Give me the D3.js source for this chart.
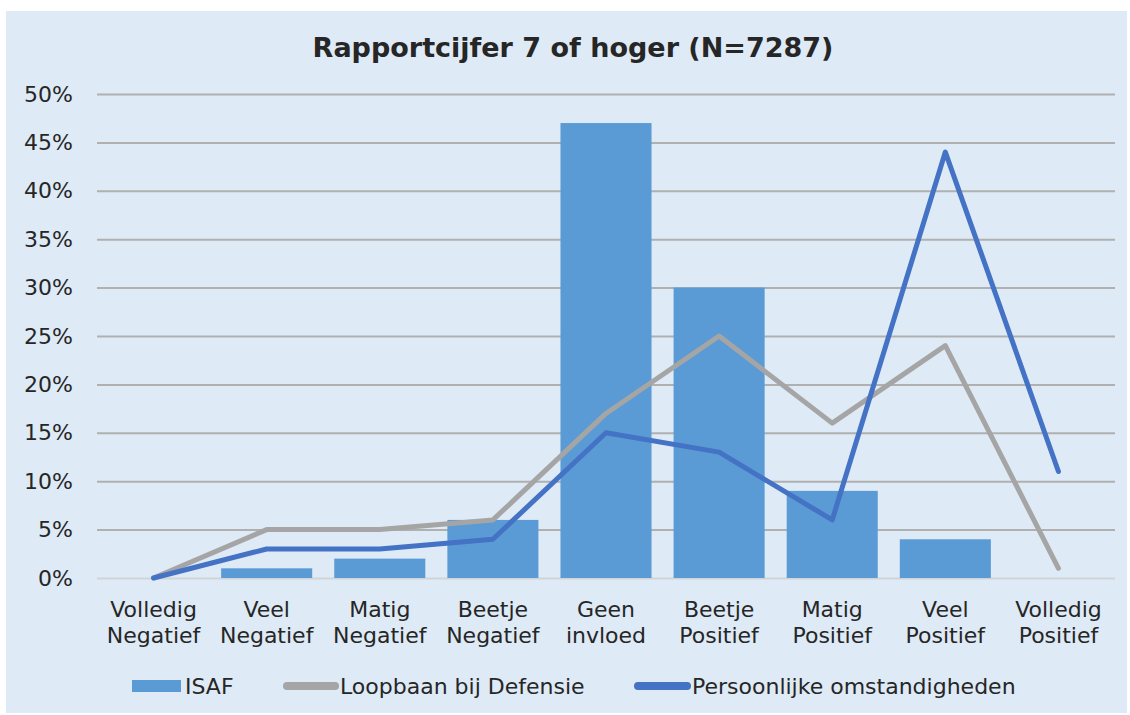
<!DOCTYPE html>
<html>
<head>
<meta charset="utf-8">
<script src="https://cdn.jsdelivr.net/npm/d3@7"></script>
<style>
  body { margin: 0; background: #fff; }
  svg text { font-family: "DejaVu Sans", Verdana, sans-serif; fill: #262626; }
</style>
</head>
<body>
<svg id="chart" width="1130" height="715"></svg>
<script>
var categories = [
  ["Volledig", "Negatief"], ["Veel", "Negatief"], ["Matig", "Negatief"],
  ["Beetje", "Negatief"], ["Geen", "invloed"], ["Beetje", "Positief"],
  ["Matig", "Positief"], ["Veel", "Positief"], ["Volledig", "Positief"]
];
var isaf = [0, 1, 2, 6, 47, 30, 9, 4, 0];
var loopbaan = [0, 5, 5, 6, 17, 25, 16, 24, 1];
var persoonlijk = [0, 3, 3, 4, 15, 13, 6, 44, 11];
var yTicks = [0, 5, 10, 15, 20, 25, 30, 35, 40, 45, 50];
var seriesNames = ["ISAF", "Loopbaan bij Defensie", "Persoonlijke omstandigheden"];

var svg = d3.select("#chart");
var margin = {top: 94, left: 97, right: 15, bottom: 137};
var width = 1130 - margin.left - margin.right,
    height = 715 - margin.top - margin.bottom;

// panel background
svg.append("rect")
    .attr("x", 6).attr("y", 11)
    .attr("width", 1121).attr("height", 702)
    .attr("fill", "#deeaf6");

svg.append("text")
    .attr("x", 573).attr("y", 57)
    .attr("text-anchor", "middle")
    .style("font-size", "27px")
    .style("font-weight", "bold")
    .text("Rapportcijfer 7 of hoger (N=7287)");

var idx = d3.range(categories.length);
var x = d3.scaleBand().domain(idx).range([0, width]).paddingInner(0.195).paddingOuter(0.0975);
var y = d3.scaleLinear().domain([0, 50]).range([height, 0]);

var g = svg.append("g")
    .attr("transform", "translate(" + margin.left + "," + margin.top + ")");

// grid
g.append("g")
    .call(d3.axisLeft(y).tickValues(yTicks).tickSize(-width).tickFormat(function(d) { return d + "%"; }))
    .call(function(s) {
      s.select(".domain").remove();
      s.selectAll(".tick line")
          .attr("stroke", function(d) { return d === 0 ? "#d0d4d8" : "#b0b0b0"; })
          .attr("stroke-width", 2);
      s.selectAll(".tick text")
          .attr("x", -24)
          .style("font-size", "22px");
    });

// bars
g.selectAll(".bar")
  .data(isaf)
  .enter().append("rect")
    .attr("class", "bar")
    .attr("x", function(d, i) { return x(i); })
    .attr("y", function(d) { return y(d); })
    .attr("width", x.bandwidth())
    .attr("height", function(d) { return height - y(d); })
    .attr("fill", "#5b9bd5");

var line = d3.line()
    .x(function(d, i) { return x(i) + x.bandwidth() / 2; })
    .y(function(d) { return y(d); });

g.append("path")
    .datum(loopbaan)
    .attr("d", line)
    .attr("fill", "none")
    .attr("stroke", "#a5a5a5")
    .attr("stroke-width", 5)
    .attr("stroke-linecap", "round")
    .attr("stroke-linejoin", "round");

g.append("path")
    .datum(persoonlijk)
    .attr("d", line)
    .attr("fill", "none")
    .attr("stroke", "#4472c4")
    .attr("stroke-width", 5)
    .attr("stroke-linecap", "round")
    .attr("stroke-linejoin", "round");

// x labels
var xl = g.append("g").attr("transform", "translate(0," + height + ")");
categories.forEach(function(c, i) {
  var cx = x(i) + x.bandwidth() / 2;
  var t = xl.append("text")
      .attr("x", cx)
      .attr("y", 39)
      .attr("text-anchor", "middle")
      .style("font-size", "22px");
  t.append("tspan").attr("x", cx).text(c[0]);
  t.append("tspan").attr("x", cx).attr("dy", 26).text(c[1]);
});

// legend
var leg = svg.append("g").attr("transform", "translate(0,686)");
leg.append("rect").attr("x", 132).attr("y", -6).attr("width", 49).attr("height", 12).attr("fill", "#5b9bd5");
leg.append("text").attr("x", 185).attr("y", 8).style("font-size", "22px").text(seriesNames[0]);
leg.append("line").attr("x1", 287).attr("x2", 335).attr("y1", 0).attr("y2", 0)
    .attr("stroke", "#a5a5a5").attr("stroke-width", 8).attr("stroke-linecap", "round");
leg.append("text").attr("x", 340).attr("y", 8).style("font-size", "22px").text(seriesNames[1]);
leg.append("line").attr("x1", 638).attr("x2", 687).attr("y1", 0).attr("y2", 0)
    .attr("stroke", "#4472c4").attr("stroke-width", 8).attr("stroke-linecap", "round");
leg.append("text").attr("x", 692).attr("y", 8).style("font-size", "22px").text(seriesNames[2]);
</script>
</body>
</html>
